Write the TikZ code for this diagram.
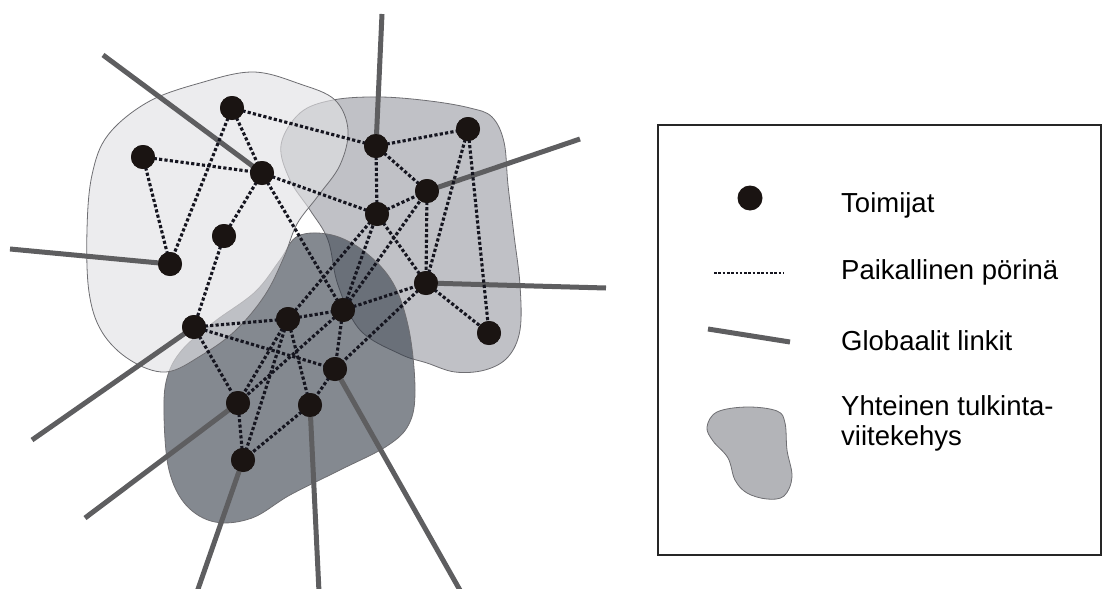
\documentclass[tikz,border=0pt]{standalone}
\usepackage{fontspec}
\setmainfont{Liberation Sans}
\definecolor{lightreg}{HTML}{E1E1E4}
\definecolor{medreg}{HTML}{C0C1C6}
\definecolor{darkreg}{HTML}{323A46}
\definecolor{actorc}{HTML}{1A1412}
\definecolor{globc}{HTML}{5E5E60}
\definecolor{dotc}{HTML}{15151F}
\definecolor{outl}{HTML}{6E6E72}
\definecolor{blobc}{HTML}{B3B4B8}
\tikzset{
  actor/.style={circle,fill=actorc,minimum size=24pt,inner sep=0pt},
  local/.style={draw=dotc,line width=3.1pt,dash pattern=on 3.2pt off 2.2pt},
  glob/.style={draw=globc,line width=5pt},
  regline/.style={draw=outl,line width=0.8pt},
  legtext/.style={anchor=base west,font=\fontsize{27.5}{30}\selectfont,align=left,inner sep=0pt}
}
\begin{document}
\begin{tikzpicture}[x=1pt,y=-1pt]
\useasboundingbox (0,0) rectangle (1104,589);
% regions
\filldraw[regline,fill=medreg] plot[smooth cycle,tension=0.6] coordinates {
 (333,100) (380,97) (430,101) (470,108) (492,117) (504,142) (508,185) (514,235)
 (520,285) (520,330) (508,357) (485,370) (455,372) (427,363) (400,354)
 (360,330) (338,285) (328,240) (310,210) (290,180) (281,145) (300,113)};
\filldraw[regline,fill=darkreg,fill opacity=0.6] plot[smooth cycle,tension=0.6] coordinates {
 (298,236) (332,235) (365,252) (393,283) (409,330) (415,390) (409,424) (387,446)
 (340,470) (290,495) (252,518) (215,522) (186,505) (169,470) (164,415) (167,378)
 (182,350) (214,322) (255,292) (280,260)};
\filldraw[regline,fill=lightreg,fill opacity=0.63] plot[smooth cycle,tension=0.6] coordinates {
 (253,72) (300,84) (335,100) (348,130) (340,165) (318,196) (297,224) (284,257)
 (265,295) (236,330) (202,355) (166,372) (130,360) (102,332) (89,292) (87,230)
 (92,175) (108,135) (148,102) (200,83)};
% actors (positions)
\node[actor] (A) at (232,108) {};
\node[actor] (B) at (143,157) {};
\node[actor] (C) at (262,173) {};
\node[actor] (D) at (224,236) {};
\node[actor] (E) at (170,264) {};
\node[actor] (F) at (194,327) {};
\node[actor] (G) at (376,146) {};
\node[actor] (H) at (468,129) {};
\node[actor] (I) at (427,191) {};
\node[actor] (J) at (377,214) {};
\node[actor] (K) at (426,283) {};
\node[actor] (L) at (489,333) {};
\node[actor] (M) at (288,319) {};
\node[actor] (N) at (343,310) {};
\node[actor] (O) at (335,369) {};
\node[actor] (P) at (238,403) {};
\node[actor] (Q) at (310,405) {};
\node[actor] (R) at (243,460) {};
% global link ends
\coordinate (gC) at (103,55);
\coordinate (gE) at (10,249);
\coordinate (gG) at (382,14);
\coordinate (gI) at (580,139);
\coordinate (gK) at (606,288);
\coordinate (gF) at (32,440);
\coordinate (gP) at (85,518);
\coordinate (gR) at (197,592);
\coordinate (gQ) at (319,592);
\coordinate (gO) at (461,592);
\foreach \a/\b in {C/gC,E/gE,G/gG,I/gI,K/gK,F/gF,P/gP,R/gR,Q/gQ,O/gO}
  \draw[glob] (\a.center) -- (\b);
\foreach \a/\b in {A/G,A/C,A/E,B/C,B/E,C/D,C/J,C/N,D/F,F/M,F/O,F/P,M/N,M/P,M/R,M/Q,M/J,
  N/J,N/I,N/K,N/O,N/P,K/O,K/L,J/K,J/I,J/G,G/I,G/H,H/K,H/L,I/K,O/Q,Q/R,P/R}
  \draw[local] (\a.center) -- (\b.center);
% redraw actors on top
\foreach \n in {A,B,C,D,E,F,G,H,I,J,K,L,M,N,O,P,Q,R}
  \fill[actorc] (\n) circle (12pt);
% legend
\draw[line width=2pt,black!85] (658,125) rectangle (1101,555);
\node[actor,minimum size=25pt] (ldot) at (750,198) {};
\node[legtext] (t1) at (841,212) {Toimijat};
\coordinate (ld1) at (714,273);
\coordinate (ld2) at (784,273);
\draw[draw=dotc,line width=2.2pt,dash pattern=on 2.6pt off 1.7pt] (ld1) -- (ld2);
\node[legtext] (t2) at (841,279) {Paikallinen pörinä};
\coordinate (lg1) at (708,329);
\coordinate (lg2) at (790,342);
\draw[glob] (lg1) -- (lg2);
\node[legtext] (t3) at (841,350) {Globaalit linkit};
\filldraw[draw=outl,line width=0.8pt,fill=blobc] plot[smooth cycle,tension=0.6] coordinates {
 (717,412) (747,407) (777,411) (785,423) (787,450) (792,477) (784,496) (767,499)
 (747,493) (735,480) (728,458) (713,441) (707,427)};
\node[legtext] (t4) at (841,445) {Yhteinen tulkinta-\\viitekehys};
\end{tikzpicture}
\end{document}
